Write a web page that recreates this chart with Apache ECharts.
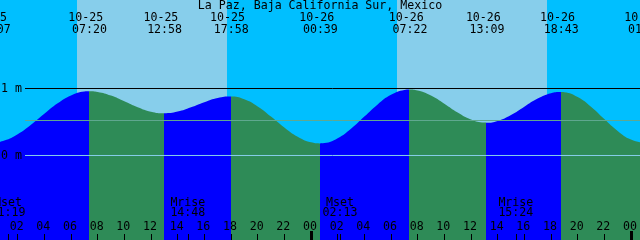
<!DOCTYPE html>
<html><head><meta charset="utf-8">
<script src="https://cdn.jsdelivr.net/npm/echarts@6/dist/echarts.min.js"></script>
<style>html,body{margin:0;padding:0;background:#00BFFF}#c{width:640px;height:240px}</style>
</head><body><div id="c"></div>
<script>
// ---- data ----
const chartTitle = 'La Paz, Baja California Sur, Mexico';
const tideDates   = ['10-25','10-25','10-25','10-25','10-26','10-26','10-26','10-26','10-27'];
const tideTimes   = ['00:07','07:20','12:58','17:58','00:39','07:22','13:09','18:43','01:02'];
const tideKinds   = ['L','H','L','H','L','H','L','H','L'];
const tideHeights = [0.195, 0.96, 0.63, 0.88, 0.18, 0.985, 0.49, 0.948, 0.188];
// hourly heights (m) from 10-25 00:00
const curveStart = '10-25';
const curveHeights = [
  0.196,0.223,0.317,0.459,0.623,0.779,0.897,0.956,0.949,0.894,0.809,0.720,
  0.653,0.630,0.655,0.719,0.796,0.858,0.880,0.840,0.732,0.581,0.418,0.280,
  0.196,0.185,0.258,0.400,0.581,0.763,0.905,0.979,0.970,0.894,0.772,0.640,
  0.537,0.491,0.516,0.604,0.728,0.849,0.930,0.944,0.873,0.728,0.544,0.366,
  0.237,0.188
];
const sunDates = ['10-25','10-26'];
const sunRise  = ['06:25','06:25'];
const sunSet   = ['17:44','17:44'];
const moonDates  = ['10-25','10-25','10-26','10-26'];
const moonTimes  = ['01:19','14:48','02:13','15:24'];
const moonEvents = ['Mset','Mrise','Mset','Mrise'];
const tickHours  = [2,4,6,8,10,12,14,16,18,20,22,24,26,28,30,32,34,36,38,40,42,44,46,48];
const tickLabels = ['02','04','06','08','10','12','14','16','18','20','22','00',
                    '02','04','06','08','10','12','14','16','18','20','22','00'];
const levelValues = [1, 0.522, 0];
const levelLabels = ['1 m', '', '0 m'];

// ---- styles ----
const NIGHT = '#00BFFF', DAY = '#87CEEB', BLUE = '#0000FF', GREEN = '#2E8B57';
const levelColors = ['#000000', '#60a890', '#87CEEB'];
const FONT = '11.6px "DejaVu Sans Mono"';
const xMin = 0.675, xMax = 48.675;
const yMin = -1.2612, yMax = 2.3209;

function toHours(date, time) {
  const day = +date.split('-')[1];
  const p = time.split(':');
  return (day - 25) * 24 + (+p[0]) + (+p[1]) / 60;
}
const base = (+curveStart.split('-')[1] - 25) * 24;
const tideT = tideTimes.map((t, i) => toHours(tideDates[i], t));
const moonT = moonTimes.map((t, i) => toHours(moonDates[i], t));
const riseT = sunRise.map((t, i) => toHours(sunDates[i], t));
const setT  = sunSet.map((t, i) => toHours(sunDates[i], t));

let pts = curveHeights.map((h, i) => [base + i, h])
  .filter(p => !tideT.some(t => Math.abs(t - p[0]) < 0.1));
tideT.forEach((t, i) => pts.push([t, tideHeights[i]]));
pts.sort((a, b) => a[0] - b[0]);

const n = tideT.length;
const pieces = [{lt: tideT[0], color: tideKinds[0] === 'L' ? GREEN : BLUE}];
for (let i = 0; i < n - 1; i++) pieces.push({gte: tideT[i], lt: tideT[i + 1], color: tideKinds[i] === 'L' ? BLUE : GREEN});
pieces.push({gte: tideT[n - 1], color: tideKinds[n - 1] === 'L' ? BLUE : GREEN});

function txt(s, x, y, align) {
  return {type: 'text', style: {text: s, x: x, y: y, align: align || 'center', verticalAlign: 'middle', font: FONT, fill: '#000'}};
}

const chart = echarts.init(document.getElementById('c'), null, {renderer: 'canvas', devicePixelRatio: 1});
chart.setOption({
  animation: false,
  grid: {left: 0, right: 0, top: 0, bottom: 0, show: true, backgroundColor: NIGHT, borderWidth: 0},
  xAxis: {type: 'value', min: xMin, max: xMax, show: false, splitLine: {show: false}},
  yAxis: {type: 'value', min: yMin, max: yMax, show: false, splitLine: {show: false}},
  visualMap: {type: 'piecewise', show: false, dimension: 0, seriesIndex: 0, pieces: pieces},
  graphic: [{type: 'text', z: 100, style: {text: chartTitle, x: 320, y: 6, align: 'center', verticalAlign: 'middle', font: FONT, fill: '#000'}}],
  series: [
    {
      type: 'line', z: 3, data: pts, smooth: 0.5, symbol: 'none',
      lineStyle: {width: 0, opacity: 0}, areaStyle: {opacity: 1, origin: 'start'}, silent: true
    },
    {
      type: 'custom', z: 1, silent: true,
      data: riseT.map((t, i) => [t, setT[i]]),
      renderItem: function (params, api) {
        const a = Math.round(api.coord([api.value(0), 0])[0]);
        const b = Math.round(api.coord([api.value(1), 0])[0]);
        return {type: 'rect', shape: {x: a, y: 0, width: b - a, height: 240}, style: {fill: DAY}};
      }
    },
    {
      type: 'custom', z: 5, silent: true,
      data: levelValues.map(v => [xMin, v]),
      renderItem: function (params, api) {
        const i = params.dataIndex;
        const y = api.coord([xMin, api.value(1)])[1];
        const ch = [{type: 'line', shape: {x1: 25, y1: y, x2: 640, y2: y}, style: {stroke: levelColors[i], lineWidth: 1}}];
        if (levelLabels[i]) ch.push(txt(levelLabels[i], 1, y + 0.3, 'left'));
        return {type: 'group', children: ch};
      }
    },
    {
      type: 'custom', z: 6, silent: true,
      data: tickHours.map(h => [h, 0]),
      renderItem: function (params, api) {
        const i = params.dataIndex;
        const h = api.value(0);
        const x = api.coord([h, 0])[0];
        const c = Math.floor(x);
        const thick = h % 24 === 0;
        const tick = thick
          ? {type: 'rect', shape: {x: c - 1, y: 231, width: 3, height: 9}, style: {fill: '#000'}}
          : {type: 'rect', shape: {x: c, y: 234, width: 1, height: 6}, style: {fill: '#000'}};
        return {type: 'group', children: [tick, txt(tickLabels[i], x - 1, 226.5)]};
      }
    },
    {
      type: 'custom', z: 6, silent: true,
      data: moonT.map(t => [t, 0]),
      renderItem: function (params, api) {
        const i = params.dataIndex;
        const x = api.coord([api.value(0), 0])[0];
        const c = Math.floor(x);
        return {type: 'group', children: [
          {type: 'rect', shape: {x: c, y: 234, width: 1, height: 6}, style: {fill: '#000'}},
          txt(moonEvents[i], x - 0.5, 203),
          txt(moonTimes[i], x - 0.5, 213)
        ]};
      }
    },
    {
      type: 'custom', z: 6, silent: true,
      data: tideT.map((t, i) => [t, tideHeights[i]]),
      renderItem: function (params, api) {
        const i = params.dataIndex;
        const x = api.coord([api.value(0), 0])[0];
        return {type: 'group', children: [
          txt(tideDates[i], x - 3, 18),
          txt(tideTimes[i], x + 0.7, 29.5)
        ]};
      }
    }
  ]
});
</script></body></html>
